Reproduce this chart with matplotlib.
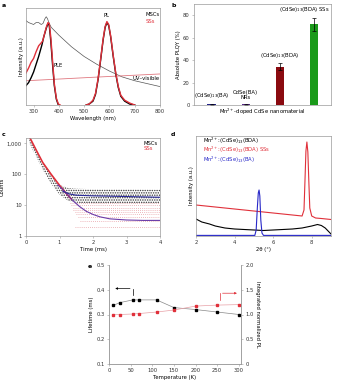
import matplotlib
matplotlib.use("Agg")
import matplotlib.pyplot as plt
import numpy as np

plt.rcParams['font.family'] = ['DejaVu Sans']
plt.rcParams['font.size'] = 3.8
plt.rcParams['mathtext.fontset'] = 'dejavusans'
plt.rcParams['axes.linewidth'] = 0.5
plt.rcParams['axes.edgecolor'] = '#9a9a9a'
plt.rcParams['xtick.color'] = '#9a9a9a'
plt.rcParams['ytick.color'] = '#9a9a9a'
plt.rcParams['xtick.labelcolor'] = '#333333'
plt.rcParams['ytick.labelcolor'] = '#333333'
plt.rcParams['xtick.major.size'] = 1.5
plt.rcParams['ytick.major.size'] = 1.5
plt.rcParams['xtick.major.width'] = 0.4
plt.rcParams['ytick.major.width'] = 0.4
plt.rcParams['xtick.major.pad'] = 1.5
plt.rcParams['ytick.major.pad'] = 1.5
plt.rcParams['axes.labelpad'] = 1.5
plt.rcParams['hatch.linewidth'] = 0.7

RED = '#e0303a'
PINK = '#e8a0a6'
NAVY = '#2b2b9a'
PURPLE = '#6a3aa8'

# ---- a: optical spectra ----
uv_msc_x = [270, 280, 290, 300, 310, 320, 330, 337, 345, 350, 355, 362, 370, 385, 400, 425, 450, 475,
            500, 550, 600, 650, 700, 750, 800]
uv_msc_y = [0.87, 0.85, 0.84, 0.83, 0.85, 0.85, 0.83, 0.84, 0.89, 0.91, 0.89, 0.84, 0.80, 0.76, 0.72,
            0.66, 0.60, 0.55, 0.50, 0.42, 0.35, 0.29, 0.25, 0.22, 0.19]
uv_ss_x = [270, 530, 800]
uv_ss_y = [0.25, 0.285, 0.32]
ple_msc_x = [270, 280, 290, 300, 310, 320, 333, 340, 350, 357, 362, 368, 375, 382, 390, 398]
ple_msc_y = [0.20, 0.23, 0.28, 0.34, 0.42, 0.50, 0.62, 0.70, 0.79, 0.84, 0.82, 0.66, 0.42, 0.20, 0.06, 0.0]
ple_ss_x = [270, 280, 290, 300, 310, 320, 330, 336, 342, 350, 357, 362, 368, 375, 382, 390, 398, 405]
ple_ss_y = [0.33, 0.38, 0.44, 0.48, 0.55, 0.61, 0.64, 0.66, 0.72, 0.80, 0.85, 0.84, 0.70, 0.46, 0.22,
            0.07, 0.01, 0.0]
pl_x = [508, 520, 535, 545, 555, 565, 575, 583, 590, 597, 605, 615, 625, 635, 645, 660, 680, 700]
pl_ss_y = [0.0, 0.01, 0.05, 0.12, 0.27, 0.47, 0.68, 0.81, 0.86, 0.83, 0.71, 0.51, 0.33, 0.19, 0.10,
           0.05, 0.02, 0.0]
pl_msc_y = [0.0, 0.01, 0.04, 0.11, 0.26, 0.46, 0.67, 0.80, 0.85, 0.82, 0.70, 0.50, 0.32, 0.18, 0.09,
            0.04, 0.01, 0.0]

# ---- b: PLQY ----
qy_pos = [0, 1, 2, 3]
qy_val = [0.8, 0.8, 34.3, 71.8]
qy_err = [0.4, 0.4, 3.0, 6.0]
qy_col = ['#22228a', '#5a2a8a', '#8a0a10', '#1a9a1a']
qy_lab = ['(CdSe)$_{13}$(BA)', 'CdSe(BA)\nNRs', '(CdSe)$_{13}$(BDA)', '(CdSe)$_{13}$(BDA) SSs']

# ---- c: decay curves ----
cloud_t = [0.1, 0.3, 0.5, 0.75, 1.0, 1.25, 1.5, 2.0, 3.0, 4.0]
cloud_lo = [1000, 380, 140, 50, 22, 14, 12, 11, 11, 11]
cloud_hi = [1600, 650, 250, 100, 45, 36, 34, 33, 33, 32]
ss_t = [0.12, 0.3, 0.5, 0.75, 1.0, 1.2, 1.35]
ss_c = [1500, 620, 240, 100, 44, 24, 16]
fit_ss_t = [0.95, 1.1, 1.25, 1.4, 1.6, 1.8, 2.0, 2.2, 2.5, 3.0, 3.5, 4.0]
fit_ss_c = [45, 32, 21, 14, 9.0, 6.3, 5.0, 4.2, 3.6, 3.3, 3.2, 3.2]
fit_msc_t = [1.1, 1.3, 1.5, 2.0, 2.5, 3.0, 3.5, 4.0]
fit_msc_c = [28, 23, 21, 20, 19.5, 19, 18.5, 18]
level_c = [2, 3, 4, 5, 6, 7, 8, 10, 12]
level_t0 = [1.45, 1.6, 1.55, 1.5, 1.45, 1.4, 1.4, 1.35, 1.3]

# ---- d: XRD ----
xrd_bda_x = [2.0, 2.3, 2.7, 3.0, 3.5, 4.0, 4.5, 5.0, 5.5, 6.0, 6.5, 7.0, 7.5, 8.0, 8.3, 8.5, 8.7, 8.9, 9.0]
xrd_bda_y = [0.17, 0.14, 0.12, 0.10, 0.08, 0.07, 0.065, 0.06, 0.055, 0.06, 0.065, 0.07, 0.08, 0.10,
             0.115, 0.105, 0.08, 0.04, 0.02]
xrd_ss_x = [2.0, 3.0, 4.0, 5.0, 6.0, 7.0, 7.5, 7.6, 7.65, 7.7, 7.75, 7.8, 7.85, 7.9, 8.0, 8.2, 8.5, 9.0]
xrd_ss_y = [0.31, 0.29, 0.27, 0.25, 0.23, 0.21, 0.20, 0.26, 0.55, 0.85, 0.94, 0.84, 0.55, 0.28, 0.20,
            0.18, 0.175, 0.165]
xrd_ba_x = [2.0, 5.05, 5.12, 5.18, 5.23, 5.27, 5.31, 5.36, 5.42, 5.5, 9.0]
xrd_ba_y = [0.006, 0.006, 0.06, 0.28, 0.43, 0.46, 0.40, 0.16, 0.03, 0.006, 0.006]

# ---- e: temperature dependence ----
temp = [10, 25, 55, 70, 110, 150, 200, 250, 300]
life = [0.337, 0.348, 0.359, 0.359, 0.359, 0.328, 0.320, 0.310, 0.300]
intpl = [1.0, 1.0, 1.01, 1.02, 1.05, 1.09, 1.17, 1.19, 1.2]

W, H = 339, 380
fig = plt.figure(figsize=(W / 100, H / 100), dpi=100)


def box(l, t, r, b):
    return fig.add_axes([l / W, 1 - b / H, (r - l) / W, (b - t) / H])


# a
ax = box(26, 8, 160, 105)
ax.plot(uv_msc_x, uv_msc_y, color='#555555', lw=0.5)
ax.plot(uv_ss_x, uv_ss_y, color='#e07880', lw=0.6)
ax.plot(ple_msc_x, ple_msc_y, color='black', lw=1.0)
ax.plot(ple_ss_x, ple_ss_y, color=RED, lw=1.0)
ax.plot(pl_x, pl_msc_y, color='black', lw=1.0)
ax.plot(pl_x, pl_ss_y, color=RED, lw=1.0)
ax.text(590, 0.9, 'PL', ha='center', va='bottom')
ax.text(397, 0.41, 'PLE', ha='center', va='center')
ax.text(745, 0.275, 'UV–visible', ha='center', va='center')
ax.text(743, 0.93, 'MSCs', color='black', va='center')
ax.text(743, 0.865, 'SSs', color=RED, va='center')
ax.set_xlim(270, 800)
ax.set_ylim(0, 1)
ax.set_xticks([300, 400, 500, 600, 700, 800])
ax.set_yticks([])
ax.set_xlabel('Wavelength (nm)')
ax.set_ylabel('Intensity (a.u.)')
fig.text(2 / W, 1 - 3 / H, 'a', fontsize=4.5, fontweight='bold', va='top')

# b
ax = box(194, 4, 331, 105)
ax.bar(qy_pos, qy_val, width=0.25, color=qy_col, yerr=qy_err, capsize=1.2,
       error_kw=dict(elinewidth=0.5, capthick=0.5, ecolor='black'))
lab_x = [0, 1, 2, 2.72]
lab_y = [4.5, 4.5, 40, 81]
for p, v, s in zip(lab_x, lab_y, qy_lab):
    ax.text(p, v, s, ha='center', va='bottom', linespacing=1.1)
ax.set_xlim(-0.52, 3.5)
ax.set_ylim(0, 90)
ax.set_yticks([0, 20, 40, 60, 80])
ax.set_xticks([])
ax.set_xlabel('Mn$^{2+}$-doped CdSe nanomaterial')
ax.set_ylabel('Absolute PLQY (%)')
fig.text(171 / W, 1 - 3 / H, 'b', fontsize=4.5, fontweight='bold', va='top')

# c
ax = box(26, 138, 160, 236)
ax.fill_between(cloud_t, cloud_lo, cloud_hi, facecolor='none', edgecolor='#333333',
                hatch='.......', lw=0)
for c, t0 in zip(level_c, level_t0):
    ax.hlines(c, t0, 4, color=PINK, lw=0.6, linestyles=(0, (1, 1.5)))
ax.plot(ss_t, ss_c, color=RED, lw=1.2)
ax.plot(fit_ss_t, fit_ss_c, color=PURPLE, lw=0.8)
ax.plot(fit_msc_t, fit_msc_c, color=NAVY, lw=0.8)
ax.text(3.5, 1000, 'MSCs', color='black', va='center')
ax.text(3.5, 700, 'SSs', color=RED, va='center')
ax.set_yscale('log')
ax.set_xlim(0, 4)
ax.set_ylim(1, 1500)
ax.set_yticks([1, 10, 100, 1000])
ax.set_yticklabels(['1', '10', '100', '1,000'])
ax.minorticks_off()
ax.set_xticks([0, 1, 2, 3, 4])
ax.set_xlabel('Time (ms)')
ax.set_ylabel('Counts')
fig.text(2 / W, 1 - 132 / H, 'c', fontsize=4.5, fontweight='bold', va='top')

# d
ax = box(196, 136, 331, 236)
ax.plot(xrd_bda_x, xrd_bda_y, color='black', lw=0.8)
ax.plot(xrd_ss_x, xrd_ss_y, color=RED, lw=0.8)
ax.plot(xrd_ba_x, xrd_ba_y, color='#2828c8', lw=0.8)
ax.text(2.38, 0.955, 'Mn$^{2+}$:(CdSe)$_{13}$(BDA)', color='black', va='center')
ax.text(2.38, 0.865, 'Mn$^{2+}$:(CdSe)$_{13}$(BDA) SSs', color=RED, va='center')
ax.text(2.38, 0.765, 'Mn$^{2+}$:(CdSe)$_{13}$(BA)', color='#2828c8', va='center')
ax.set_xlim(2, 9)
ax.set_ylim(0, 1)
ax.set_xticks([2, 4, 6, 8])
ax.set_yticks([])
ax.set_xlabel('2θ (°)')
ax.set_ylabel('Intensity (a.u.)')
fig.text(171 / W, 1 - 132 / H, 'd', fontsize=4.5, fontweight='bold', va='top')

# e
ax = box(109, 265, 241, 364)
ax2 = ax.twinx()
ax.plot(temp, life, color='#888888', lw=0.5, marker='s', ms=1.6, mfc='black', mec='black')
ax2.plot(temp, intpl, color=PINK, lw=0.5, marker='s', ms=1.6, mfc=RED, mec=RED)
ax.annotate('', xy=(8, 0.405), xytext=(55, 0.405),
            arrowprops=dict(arrowstyle='-|>', color='black', lw=0.5, mutation_scale=3))
ax.plot([55, 55], [0.38, 0.405], color='black', lw=0.5)
ax2.annotate('', xy=(302, 1.43), xytext=(256, 1.43),
             arrowprops=dict(arrowstyle='-|>', color=RED, lw=0.5, mutation_scale=3))
ax2.plot([256, 256], [1.3, 1.43], color=RED, lw=0.5)
for a in (ax, ax2):
    a.spines['top'].set_visible(False)
ax.set_xlim(0, 305)
ax.set_ylim(0.1, 0.5)
ax2.set_ylim(0, 2.0)
ax.set_xticks([0, 50, 100, 150, 200, 250, 300])
ax.set_yticks([0.1, 0.2, 0.3, 0.4, 0.5])
ax2.set_yticks([0, 0.5, 1.0, 1.5, 2.0])
ax2.set_yticklabels(['0', '0.5', '1.0', '1.5', '2.0'])
ax.set_xlabel('Temperature (K)')
ax.set_ylabel('Lifetime (ms)')
ax2.set_ylabel('Integrated normalized PL', rotation=270, labelpad=5)
fig.text(88 / W, 1 - 264 / H, 'e', fontsize=4.5, fontweight='bold', va='top')

fig.savefig('out.png', dpi=100)
